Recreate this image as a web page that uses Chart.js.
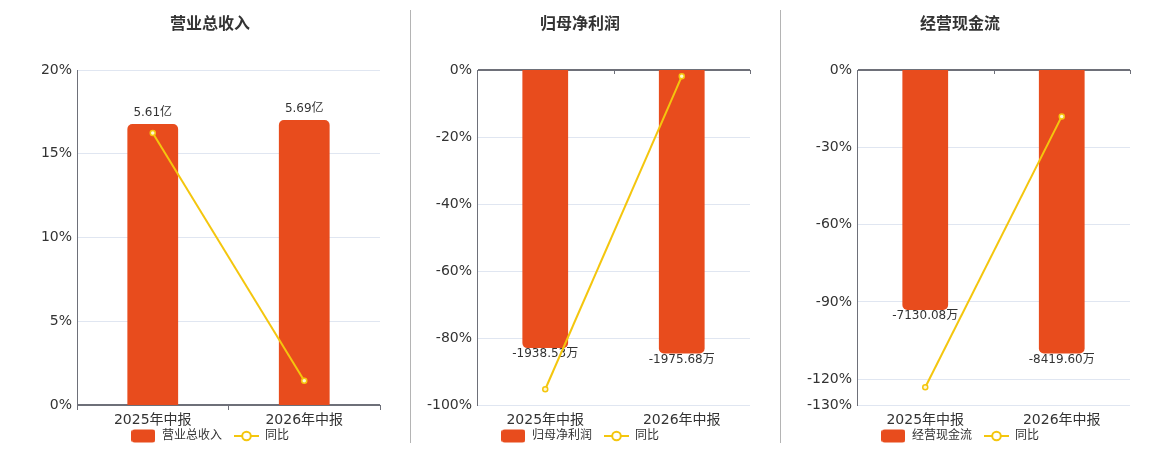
<!DOCTYPE html>
<html><head><meta charset="utf-8">
<script src="https://cdn.jsdelivr.net/npm/chart.js@4.4.1/dist/chart.umd.min.js"></script>
<style>
html,body{margin:0;padding:0;background:#fff;overflow:hidden;width:1160px;height:450px;position:relative}
.box{position:absolute;top:0;height:463px}
.box canvas{display:block}
.sep{position:absolute;top:10px;height:433px;width:1px;background:#b4b4b4}
</style></head><body>
<div class="sep" style="left:410px"></div>
<div class="sep" style="left:780px"></div>
<div class="box" style="left:20px;width:380px"><canvas id="c1"></canvas></div>
<div class="box" style="left:400px;width:360px"><canvas id="c2"></canvas></div>
<div class="box" style="left:780px;width:360px"><canvas id="c3"></canvas></div>
<script>
// ---- data ----
const categories = ['2025年中报', '2026年中报'];

const revenueValues = [5.61, 5.69];          // 亿
const revenueLabels = ['5.61亿', '5.69亿'];
const revenueYoY = [16.24, 1.45];            // %
const revenueTicks = [0, 5, 10, 15, 20];

const profitValues = [-1938.53, -1975.68];   // 万
const profitLabels = ['-1938.53万', '-1975.68万'];
const profitYoY = [-95.3, -1.9];
const profitTicks = [0, -20, -40, -60, -80, -100];

const cashValues = [-7130.08, -8419.60];     // 万
const cashLabels = ['-7130.08万', '-8419.60万'];
const cashYoY = [-123.1, -18.0];
const cashTicks = [0, -30, -60, -90, -120, -130];

// ---- style ----
const BAR = '#E84C1D';
const LINE = '#F4C60E';
const AXIS = '#6E7079';
const GRID = '#E0E6F1';
const TEXT = '#333333';
Chart.defaults.font.family = '"DejaVu Sans", "Noto Sans CJK SC", sans-serif';

function barIcon() {
  const c = document.createElement('canvas');
  c.width = 24; c.height = 14;
  const g = c.getContext('2d');
  g.fillStyle = BAR;
  g.beginPath();
  g.roundRect(0, 0.5, 24, 13, 3);
  g.fill();
  return c;
}
function lineIcon() {
  const c = document.createElement('canvas');
  c.width = 25; c.height = 14;
  const g = c.getContext('2d');
  g.strokeStyle = LINE;
  g.lineWidth = 2;
  g.beginPath(); g.moveTo(0, 7); g.lineTo(25, 7); g.stroke();
  g.fillStyle = '#fff';
  g.beginPath(); g.arc(12.5, 7, 4.3, 0, Math.PI * 2); g.fill(); g.stroke();
  return c;
}
const ICON_BAR = barIcon();
const ICON_LINE = lineIcon();

const barLabelPlugin = {
  id: 'barLabels',
  afterDatasetDraw(chart, args, opts) {
    if (args.index !== 0 || !opts.labels) return;
    const ctx = chart.ctx;
    ctx.save();
    ctx.font = '12px "DejaVu Sans", "Noto Sans CJK SC", sans-serif';
    ctx.fillStyle = TEXT;
    ctx.textAlign = 'center';
    ctx.textBaseline = 'middle';
    const data = chart.data.datasets[0].data;
    args.meta.data.forEach((bar, i) => {
      const y = data[i] >= 0 ? bar.y - 11 : bar.y + 6;
      ctx.fillText(opts.labels[i], bar.x, y);
    });
    ctx.restore();
  }
};

const topTickPlugin = {
  id: 'topTicks',
  afterDraw(chart, args, opts) {
    if (!opts.enabled) return;
    const x = chart.scales.x, a = chart.chartArea, ctx = chart.ctx;
    const n = chart.data.labels.length;
    const xs = [];
    for (let i = 0; i < n - 1; i++) xs.push((x.getPixelForValue(i) + x.getPixelForValue(i + 1)) / 2);
    xs.push(a.right);
    ctx.save();
    ctx.strokeStyle = AXIS; ctx.lineWidth = 1;
    xs.forEach(px => {
      const p = Math.round(px) + 0.5;
      ctx.beginPath(); ctx.moveTo(p, a.top); ctx.lineTo(p, a.top + 4); ctx.stroke();
    });
    ctx.restore();
  }
};

// pull the legend up a little so it sits right under the category labels
const legendShiftPlugin = {
  id: 'legendShift',
  afterLayout(chart, args, opts) {
    const l = chart.legend;
    if (!l) return;
    l.top -= opts.shift;
    l.bottom -= opts.shift;
  }
};

function makeChart(id, o) {
  return new Chart(document.getElementById(id), {
    type: 'bar',
    data: {
      labels: categories,
      datasets: [
        {
          type: 'bar', label: o.title, data: o.bars, yAxisID: 'y1', order: 1,
          backgroundColor: BAR, borderRadius: 5, borderSkipped: 'start',
          barPercentage: 0.335, categoryPercentage: 1
        },
        {
          type: 'line', label: '同比', data: o.yoy, yAxisID: 'y', order: 0,
          borderColor: LINE, borderWidth: 2, tension: 0,
          pointRadius: 2.5, pointBorderWidth: 1.5,
          pointBackgroundColor: '#fff8d0', pointBorderColor: LINE
        }
      ]
    },
    options: {
      responsive: true, maintainAspectRatio: false, animation: false,
      layout: { padding: 0 },
      plugins: {
        title: {
          display: true, text: o.title, color: TEXT,
          font: { size: 16, weight: 'bold' },
          padding: { top: 15, bottom: 35.8 }
        },
        legend: {
          position: 'bottom',
          labels: {
            usePointStyle: true, pointStyleWidth: 25, padding: 12,
            font: { size: 12 }, color: TEXT,
            generateLabels: () => [
              { text: o.title, pointStyle: ICON_BAR, fontColor: TEXT, lineWidth: 0, hidden: false, datasetIndex: 0 },
              { text: '同比', pointStyle: ICON_LINE, fontColor: TEXT, lineWidth: 0, hidden: false, datasetIndex: 1 }
            ]
          }
        },
        tooltip: { enabled: false },
        barLabels: { labels: o.barLabels },
        topTicks: { enabled: o.topTicks },
        legendShift: { shift: 11 }
      },
      scales: {
        x: {
          type: 'category', offset: true,
          border: { display: false },
          grid: o.topTicks
            ? { display: false, drawTicks: false }
            : { display: true, drawOnChartArea: false, drawTicks: true, tickLength: 5, color: AXIS, offset: true },
          ticks: { color: TEXT, font: { size: 14 }, padding: o.topTicks ? 7 : 2, maxRotation: 0 },
          afterFit: s => { s.height = 24; }
        },
        y: {
          position: 'left', min: o.min, max: o.max,
          afterBuildTicks: s => { s.ticks = o.ticks.map(v => ({ value: v })); },
          border: { display: true, color: AXIS, width: 1 },
          grid: {
            drawTicks: false,
            color: c => (c.tick && c.tick.value === 0) ? AXIS : GRID,
            lineWidth: c => (c.tick && c.tick.value === 0) ? 2 : 1
          },
          ticks: { color: TEXT, font: { size: 14 }, padding: 5, callback: v => v + '%' },
          afterFit: s => { s.width = o.leftW; }
        },
        y1: {
          position: 'right', min: o.barMin, max: o.barMax,
          border: { display: false }, grid: { display: false },
          ticks: { display: false },
          afterFit: s => { s.width = o.rightW; }
        }
      }
    },
    plugins: [barLabelPlugin, topTickPlugin, legendShiftPlugin]
  });
}

makeChart('c1', {
  title: '营业总收入', bars: revenueValues, barLabels: revenueLabels, yoy: revenueYoY,
  ticks: revenueTicks, min: 0, max: 20, barMin: 0, barMax: 6.69,
  leftW: 57, rightW: 20, topTicks: false
});
makeChart('c2', {
  title: '归母净利润', bars: profitValues, barLabels: profitLabels, yoy: profitYoY,
  ticks: profitTicks, min: -100, max: 0, barMin: -2335, barMax: 0,
  leftW: 77, rightW: 10, topTicks: true
});
makeChart('c3', {
  title: '经营现金流', bars: cashValues, barLabels: cashLabels, yoy: cashYoY,
  ticks: cashTicks, min: -130, max: 0, barMin: -9950, barMax: 0,
  leftW: 77, rightW: 10, topTicks: true
});
</script>
</body></html>
